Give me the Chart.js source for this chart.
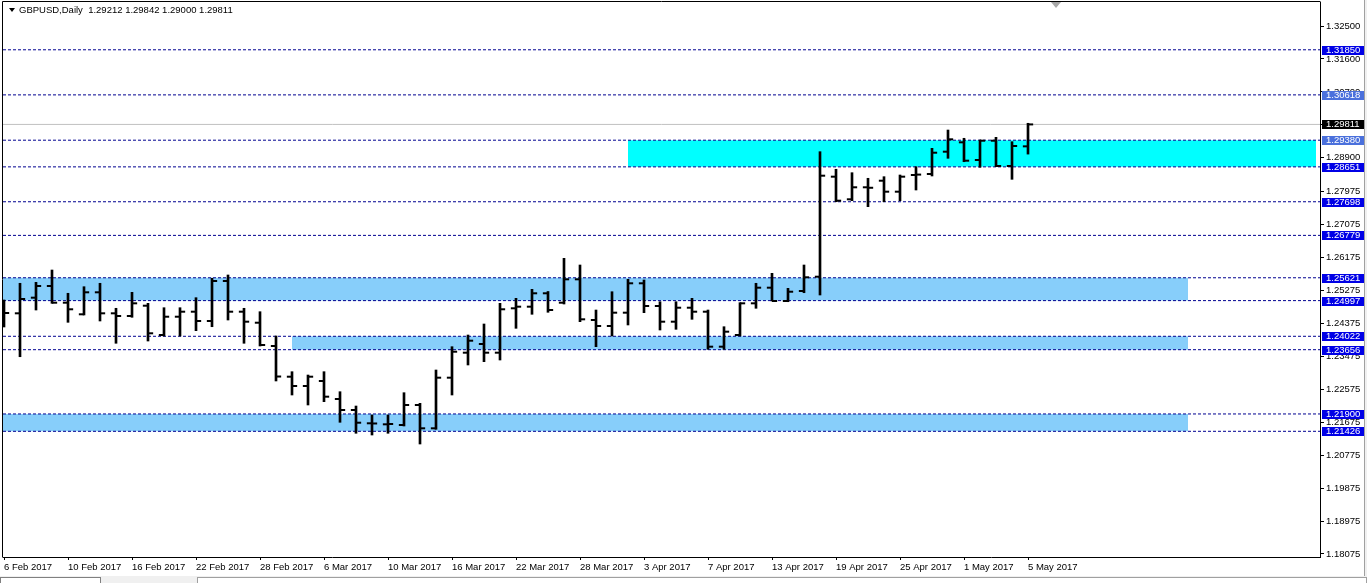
<!DOCTYPE html>
<html>
<head>
<meta charset="utf-8">
<script src="https://cdn.jsdelivr.net/npm/chart.js@4.4.1/dist/chart.umd.min.js"></script>
<style>
html,body{margin:0;padding:0;background:#fff;overflow:hidden}
#wrap{position:relative;width:1367px;height:583px;background:#fff}
canvas{position:absolute;left:0;top:0}
#tabs{position:absolute;left:0;top:576px;width:1367px;height:7px;background:#f0f0f0}
#tab1{position:absolute;left:0;top:1px;width:99px;height:8px;border:1px solid #808080;background:#fff}
#tab2{position:absolute;left:197px;top:1px;width:1168px;height:8px;border:1px solid #a0a0a0;background:#fff}
#rside{position:absolute;left:1364px;top:0;width:3px;height:583px;background:#f0f0f0;border-left:1px solid #a0a0a0}
</style>
</head>
<body>
<div id="wrap">
<canvas id="c" width="1367" height="583"></canvas>
<div id="rside"></div>
<div id="tabs"><div id="tab1"></div><div id="tab2"></div></div>
</div>
<script>
// ---------- data ----------
const symbol = 'GBPUSD';
const period = 'Daily';

const dates = [
 '6 Feb 2017','7 Feb 2017','8 Feb 2017','9 Feb 2017','10 Feb 2017','13 Feb 2017','14 Feb 2017','15 Feb 2017','16 Feb 2017','17 Feb 2017',
 '20 Feb 2017','21 Feb 2017','22 Feb 2017','23 Feb 2017','24 Feb 2017','27 Feb 2017','28 Feb 2017',
 '1 Mar 2017','2 Mar 2017','3 Mar 2017','6 Mar 2017','7 Mar 2017','8 Mar 2017','9 Mar 2017','10 Mar 2017',
 '13 Mar 2017','14 Mar 2017','15 Mar 2017','16 Mar 2017','17 Mar 2017','20 Mar 2017','21 Mar 2017','22 Mar 2017','23 Mar 2017','24 Mar 2017',
 '27 Mar 2017','28 Mar 2017','29 Mar 2017','30 Mar 2017','31 Mar 2017',
 '3 Apr 2017','4 Apr 2017','5 Apr 2017','6 Apr 2017','7 Apr 2017','10 Apr 2017','11 Apr 2017','12 Apr 2017','13 Apr 2017','14 Apr 2017',
 '17 Apr 2017','18 Apr 2017','19 Apr 2017','20 Apr 2017','21 Apr 2017','24 Apr 2017','25 Apr 2017','26 Apr 2017','27 Apr 2017','28 Apr 2017',
 '1 May 2017','2 May 2017','3 May 2017','4 May 2017','5 May 2017'
];

const open = [
 1.24795,1.24650,1.25077,1.25396,1.24940,1.24623,1.25224,1.24650,1.24577,1.24858,
 1.24057,1.24557,1.24694,1.24440,1.25533,1.24694,1.24393,1.23757,1.22918,1.22664,
 1.22801,1.22309,1.22008,1.21645,1.21617,1.21598,1.22145,1.21508,1.22891,1.23574,
 1.23811,1.23574,1.24787,1.24831,1.25197,1.24940,1.25579,1.24467,1.24303,1.24667,
 1.25470,1.24850,1.24421,1.24803,1.24694,1.23738,1.24057,1.24923,1.25350,1.24986,
 1.25260,1.25650,1.28383,1.27765,1.28093,1.28273,1.27973,1.28429,1.28456,1.29066,
 1.29322,1.28839,1.29366,1.28675,1.29212
];
const high = [
 1.25014,1.25470,1.25497,1.25833,1.25197,1.25377,1.25470,1.24787,1.25224,1.24923,
 1.24803,1.24803,1.25077,1.25607,1.25697,1.24787,1.24694,1.24030,1.23055,1.22964,
 1.23055,1.22508,1.22117,1.21872,1.21872,1.22481,1.22191,1.23101,1.23738,1.24057,
 1.24358,1.24923,1.25060,1.25306,1.25246,1.26153,1.25970,1.24740,1.25240,1.25579,
 1.25560,1.24967,1.24967,1.25060,1.24740,1.24284,1.24940,1.25470,1.25743,1.25333,
 1.25970,1.29066,1.28585,1.28492,1.28339,1.28383,1.28429,1.28656,1.29158,1.29658,
 1.29432,1.29385,1.29459,1.29339,1.29842
];
const low = [
 1.24276,1.23464,1.24740,1.24923,1.24404,1.24604,1.24440,1.23831,1.24541,1.23893,
 1.24030,1.24030,1.24175,1.24284,1.24467,1.23831,1.23757,1.22801,1.22418,1.22145,
 1.22235,1.21672,1.21372,1.21325,1.21372,1.21571,1.21079,1.21481,1.22418,1.23238,
 1.23328,1.23374,1.24240,1.24623,1.24678,1.24904,1.24421,1.23738,1.24030,1.24331,
 1.24667,1.24194,1.24213,1.24486,1.23667,1.23667,1.24030,1.24787,1.24986,1.24967,
 1.25213,1.25150,1.27699,1.27727,1.27563,1.27699,1.27727,1.28019,1.28402,1.28885,
 1.28792,1.28639,1.28656,1.28311,1.29000
];
const close = [
 1.24658,1.25041,1.25396,1.24940,1.24760,1.25224,1.24650,1.24577,1.24923,1.24104,
 1.24557,1.24694,1.24440,1.25533,1.24694,1.24421,1.23784,1.22923,1.22664,1.22918,
 1.22372,1.22008,1.21661,1.21640,1.21625,1.22145,1.21508,1.22891,1.23601,1.23902,
 1.23574,1.24760,1.24831,1.25197,1.24740,1.25579,1.24486,1.24303,1.24667,1.25470,
 1.24850,1.24421,1.24803,1.24694,1.23738,1.24148,1.24923,1.25350,1.24986,1.25240,
 1.25634,1.28410,1.27727,1.28093,1.28080,1.27973,1.28383,1.28440,1.29038,1.29404,
 1.28820,1.29366,1.28675,1.29221,1.29811
];

const xTickIndex = [0,4,8,12,16,20,24,28,32,36,40,44,48,52,56,60,64];
const yTicks = [1.32500,1.31600,1.30700,1.29800,1.28900,1.27975,1.27075,1.26175,1.25275,
                1.24375,1.23475,1.22575,1.21675,1.20775,1.19875,1.18975,1.18075];

const levels = [1.31850,1.30618,1.29380,1.28651,1.27698,1.26779,1.25621,1.24997,1.24022,1.23656,1.21900,1.21426];
const bidPrice = 1.29811;

const zoneTop    = [1.29380,1.25621,1.24022,1.21900];
const zoneBottom = [1.28651,1.24997,1.23656,1.21426];
const zoneStart  = [39,-2,18,-2];   // bar index where each zone begins
const zoneEnd    = [82,74,74,74];   // bar index where each zone ends

// ---------- styles ----------
const levelBoxColors = ['#0000e6','#4a70dc','#4a70dc','#0000e6','#0000e6','#0000e6','#0000e6','#0000e6','#0000e6','#0000e6','#0000e6','#0000e6'];
const zoneColors = ['#00ffff','#87cefa','#87cefa','#87cefa'];
const FONT_FAMILY = "'Liberation Sans', Arial, sans-serif";
const FONT_SIZE = 9.5;
const FONT = FONT_SIZE + 'px ' + FONT_FAMILY;
const xMin = -0.0625, xMax = 82.25;
const yMin = 1.179918, yMax = 1.3315574;
const tickOffset = 0.16;

Chart.defaults.font.family = FONT_FAMILY;
Chart.defaults.font.size = FONT_SIZE;
Chart.defaults.color = '#000';

const datasets = [];
zoneTop.forEach((t, k) => {
  datasets.push({type:'line', data:[{x:zoneStart[k], y:t},{x:zoneEnd[k], y:t}],
    borderColor:'rgba(0,0,0,0)', borderWidth:0, pointRadius:0, fill:false, order:10});
  datasets.push({type:'line', data:[{x:zoneStart[k], y:zoneBottom[k]},{x:zoneEnd[k], y:zoneBottom[k]}],
    borderColor:'rgba(0,0,0,0)', borderWidth:0, pointRadius:0, fill:'-1', backgroundColor:zoneColors[k], order:10});
});
levels.forEach(v => {
  datasets.push({type:'line', data:[{x:xMin, y:v},{x:xMax, y:v}], borderColor:'#000090', borderWidth:1,
    borderDash:[3,2], pointRadius:0, fill:false, order:5});
});
datasets.push({type:'line', data:[{x:xMin, y:bidPrice},{x:xMax, y:bidPrice}], borderColor:'#c0c0c0',
  borderWidth:1, pointRadius:0, fill:false, order:5});

datasets.push({type:'bar', data: dates.map((d,i)=>({x:i, y:[low[i], high[i]]})),
  backgroundColor:'#000', borderWidth:0, barThickness:2, order:1});
datasets.push({type:'scatter', data: open.map((v,i)=>({x:i - tickOffset, y:v})),
  pointStyle:'line', pointRadius:2.6, borderWidth:2, borderColor:'#000', backgroundColor:'#000', showLine:false, order:0});
datasets.push({type:'scatter', data: close.map((v,i)=>({x:i + tickOffset, y:v})),
  pointStyle:'line', pointRadius:2.6, borderWidth:2, borderColor:'#000', backgroundColor:'#000', showLine:false, order:0});

const overlay = {
  id:'overlay',
  afterDraw(chart){
    const {ctx, chartArea:a, scales} = chart;
    const y = scales.y, x = scales.x;
    ctx.save();
    // top and left frame
    ctx.strokeStyle = '#000'; ctx.lineWidth = 1;
    ctx.beginPath();
    ctx.moveTo(a.left - 0.5, a.bottom + 0.5);
    ctx.lineTo(a.left - 0.5, a.top - 0.5);
    ctx.lineTo(a.right + 0.5, a.top - 0.5);
    ctx.stroke();
    // level price boxes on the axis
    ctx.font = FONT; ctx.textBaseline = 'middle'; ctx.textAlign = 'left';
    const boxes = levels.map((v,i)=>({v, c:levelBoxColors[i]})).concat([{v:bidPrice, c:'#000'}]);
    boxes.forEach(({v,c}) => {
      const py = Math.round(y.getPixelForValue(v));
      ctx.fillStyle = c;
      ctx.fillRect(y.left + 2, py - 4, y.width - 5, 9);
      ctx.fillStyle = '#fff';
      ctx.fillText(v.toFixed(5), y.left + 6, py + 0.5);
    });
    // header
    const n = open.length - 1;
    ctx.fillStyle = '#000';
    ctx.beginPath();
    ctx.moveTo(a.left + 6, a.top + 6); ctx.lineTo(a.left + 12, a.top + 6); ctx.lineTo(a.left + 9, a.top + 10);
    ctx.closePath(); ctx.fill();
    ctx.fillText(symbol + ',' + period + '  ' + open[n].toFixed(5) + ' ' + high[n].toFixed(5) + ' ' +
      low[n].toFixed(5) + ' ' + close[n].toFixed(5), a.left + 16, a.top + 8.5);
    // chart shift marker
    const sx = Math.round(x.getPixelForValue(65.75));
    ctx.fillStyle = '#a8a8a8';
    ctx.beginPath();
    ctx.moveTo(sx - 5, a.top); ctx.lineTo(sx + 5, a.top); ctx.lineTo(sx, a.top + 6);
    ctx.closePath(); ctx.fill();
    ctx.restore();
  }
};

new Chart(document.getElementById('c'), {
  type:'scatter',
  data:{ datasets },
  options:{
    responsive:false,
    animation:false,
    events:[],
    layout:{ autoPadding:false, padding:{ left:3, top:2, right:0, bottom:0 } },
    plugins:{ legend:{display:false}, tooltip:{enabled:false}, title:{display:false} },
    scales:{
      x:{
        type:'linear', position:'bottom', min:xMin, max:xMax, offset:false,
        afterBuildTicks: s => { s.ticks = xTickIndex.map(v => ({value:v})); },
        afterFit: s => { s.height = 26; s.paddingLeft = 0; s.paddingRight = 0; },
        grid:{ display:true, drawOnChartArea:false, drawTicks:true, tickLength:3, tickColor:'#000', offset:false },
        border:{ display:true, color:'#000', width:1 },
        ticks:{ align:'start', autoSkip:false, maxRotation:0, minRotation:0, padding:2,
          callback: v => dates[v] !== undefined ? dates[v] : '' }
      },
      y:{
        type:'linear', position:'right', min:yMin, max:yMax, beginAtZero:false,
        afterBuildTicks: s => { s.ticks = yTicks.map(v => ({value:v})); },
        afterFit: s => { s.width = 47; s.paddingTop = 0; s.paddingBottom = 0; },
        grid:{ display:true, drawOnChartArea:false, drawTicks:true, tickLength:4, tickColor:'#000' },
        border:{ display:true, color:'#000', width:1 },
        ticks:{ autoSkip:false, padding:2, callback: v => Number(v).toFixed(5) }
      }
    }
  },
  plugins:[overlay]
});
</script>
</body>
</html>
